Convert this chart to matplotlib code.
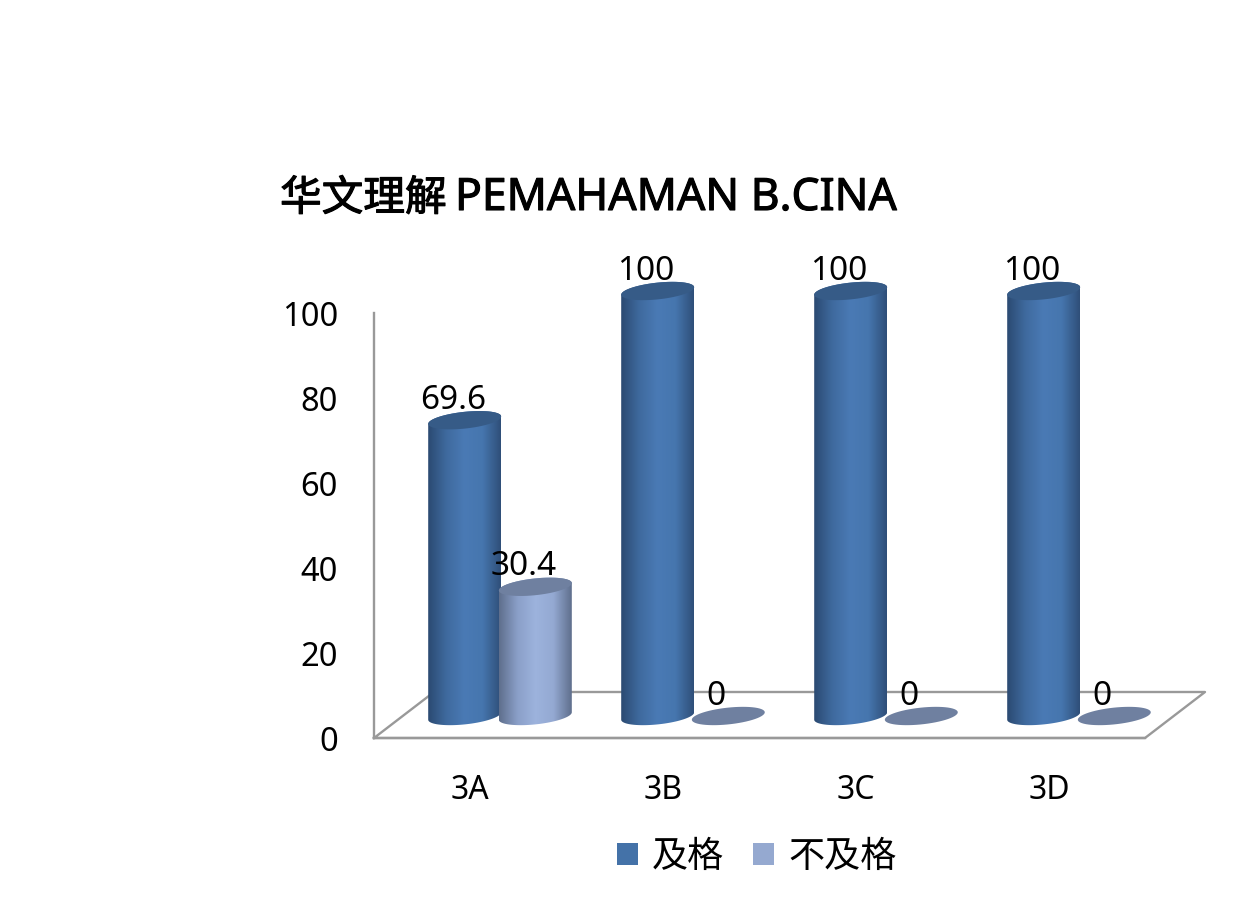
# -*- coding: utf-8 -*-
"""Pass / fail rates per class, drawn as cylinders on a fake 3D floor."""

import matplotlib
matplotlib.use("Agg")
import matplotlib.patheffects as pe
import matplotlib.pyplot as plt
import numpy as np
from matplotlib.colors import LinearSegmentedColormap
from matplotlib.patches import Patch, Polygon

plt.rcParams["font.family"] = ["Noto Sans CJK SC", "DejaVu Sans"]

TITLE_CN = "华文理解"
TITLE_MS = "PEMAHAMAN B.CINA"
CLASSES = ["3A", "3B", "3C", "3D"]
PASS_RATE = [69.6, 100, 100, 100]
FAIL_RATE = [30.4, 0, 0, 0]
SERIES_NAMES = ["及格", "不及格"]
Y_TICKS = [0, 20, 40, 60, 80, 100]

W, H = 1251, 897
AX_LEFT, AX_RIGHT, AX_TOP, AX_BOTTOM = 374, 1145, 313, 738
GROUP_STEP = 193.0
GROUP_ZERO = 500.0
PX_PER_VALUE = (AX_BOTTOM - AX_TOP) / 100.0

BAR_OFFSET = 35.3 / GROUP_STEP
BAR_HALF = 36.5 / GROUP_STEP
LIFT = 22 / PX_PER_VALUE
ELLIPSE_B = 8.4 / PX_PER_VALUE
ELLIPSE_SHEAR = 3.7 / PX_PER_VALUE

BLUE = LinearSegmentedColormap.from_list(
    "blue", ["#2b4a72", "#3f6a9e", "#4a7ab5", "#4676ae", "#2f4f79"]
)
LIGHT = LinearSegmentedColormap.from_list(
    "light", ["#5f6f8d", "#8a9fc8", "#9db3dd", "#94a9d2", "#5f6f8d"]
)


def outline(cx, y, start, stop):
    t = np.linspace(start, stop, 60)
    xs = cx + BAR_HALF * np.cos(t)
    ys = y + ELLIPSE_B * np.sin(t) + ELLIPSE_SHEAR * np.cos(t)
    return np.column_stack([xs, ys])


def draw_cylinder(ax, cx, value, cmap, top_color, z):
    base = LIFT
    top = LIFT + value
    if value > 0:
        body = np.vstack([outline(cx, base, np.pi, 2 * np.pi), outline(cx, top, 0, np.pi)])
        clip = Polygon(body, closed=True, transform=ax.transData, fc="none", ec="none")
        ax.add_patch(clip)
        gradient = np.linspace(0, 1, 128).reshape(1, -1)
        image = ax.imshow(
            gradient,
            cmap=cmap,
            aspect="auto",
            extent=(cx - BAR_HALF, cx + BAR_HALF, base - 4, top + 4),
            zorder=z,
        )
        # bars stick out above the axes, so the default axes clip box is too small
        image.set_clip_box(ax.figure.bbox)
        image.set_clip_path(clip)
    cap = outline(cx, top, 0, 2 * np.pi)
    ax.add_patch(Polygon(cap, closed=True, fc=top_color, ec="none", zorder=z + 0.1, clip_on=False))


fig = plt.figure(figsize=(W / 100, H / 100), dpi=100)
ax = fig.add_axes([AX_LEFT / W, 1 - AX_BOTTOM / H, (AX_RIGHT - AX_LEFT) / W, (AX_BOTTOM - AX_TOP) / H])
x_left = (AX_LEFT - GROUP_ZERO) / GROUP_STEP
x_right = (AX_RIGHT - GROUP_ZERO) / GROUP_STEP

# floor behind the bars
depth_x = 60 / GROUP_STEP
depth_y = 46 / PX_PER_VALUE
floor_color = "#999999"
ax.plot(
    [x_left, x_left + depth_x, x_right + depth_x, x_right, x_left],
    [0, depth_y, depth_y, 0, 0],
    color=floor_color,
    linewidth=1.7,
    clip_on=False,
    zorder=1,
)

for i in range(len(CLASSES)):
    left_x = i - BAR_OFFSET
    right_x = i + BAR_OFFSET
    draw_cylinder(ax, left_x, PASS_RATE[i], BLUE, "#365b87", 3 + i)
    draw_cylinder(ax, right_x, FAIL_RATE[i], LIGHT, "#6f80a0", 3.5 + i)
    for bx, value in [(left_x, PASS_RATE[i]), (right_x, FAIL_RATE[i])]:
        ax.annotate(
            f"{value:g}",
            (bx, value + LIFT),
            xytext=(-12, 20),
            textcoords="offset pixels",
            ha="center",
            va="center",
            fontsize=24,
            family="Noto Sans",
            annotation_clip=False,
            zorder=20,
        )

ax.set_xlim(x_left, x_right)
ax.set_ylim(0, 100)
ax.patch.set_visible(False)
for side in ["top", "right"]:
    ax.spines[side].set_visible(False)
for side in ["left", "bottom"]:
    ax.spines[side].set_color(floor_color)
    ax.spines[side].set_linewidth(1.7)

ax.set_yticks(Y_TICKS)
ax.set_yticklabels([str(v) for v in Y_TICKS], fontsize=23.5, family="Noto Sans", va="center_baseline")
ax.set_xticks([i - 30 / GROUP_STEP for i in range(len(CLASSES))])
ax.set_xticklabels(CLASSES, fontsize=23, family="Noto Sans")
ax.tick_params(axis="both", length=0)
ax.tick_params(axis="y", pad=26)
ax.tick_params(axis="x", pad=26)

stroke = [pe.withStroke(linewidth=0.8, foreground="black")]
fig.text(280 / W, 1 - 199 / H, TITLE_CN, fontsize=30, ha="left", va="center", path_effects=stroke)
fig.text(455 / W, 1 - 199 / H, TITLE_MS, fontsize=32, family="Noto Sans", ha="left", va="center", path_effects=stroke)

handles = [Patch(fc="#4472a8", ec="none"), Patch(fc="#95a9d0", ec="none")]
fig.legend(
    handles,
    SERIES_NAMES,
    loc="center",
    bbox_to_anchor=(757 / W, 1 - 857 / H),
    ncol=2,
    frameon=False,
    fontsize=26,
    handlelength=0.58,
    handleheight=0.58,
    handletextpad=0.4,
    columnspacing=0.8,
)

fig.savefig("out.png", dpi=100)
